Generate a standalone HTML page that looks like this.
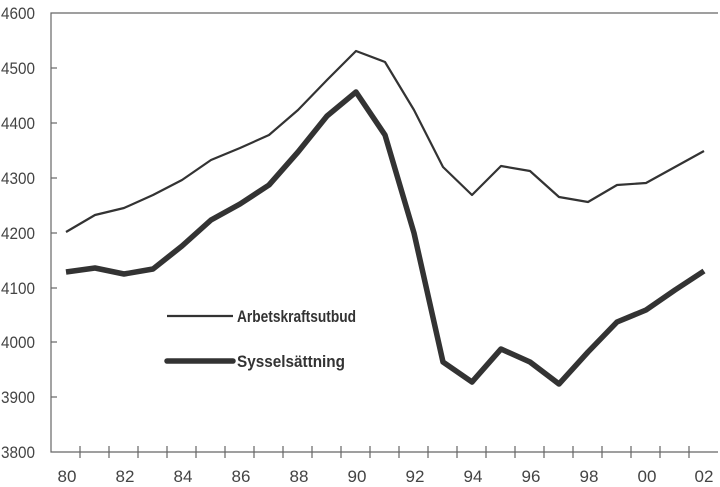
<!DOCTYPE html>
<html><head><meta charset="utf-8"><style>html,body{margin:0;padding:0;background:#fff}svg{display:block}</style></head><body>
<svg width="720" height="487" viewBox="0 0 720 487" xmlns="http://www.w3.org/2000/svg">
<rect width="720" height="487" fill="#fff"/>
<g stroke="#666" stroke-width="1.2" fill="none">
<polyline points="718,13 51,13 51,452 718,452"/>
<g>
<line x1="51" y1="68" x2="57" y2="68"/><line x1="51" y1="123" x2="57" y2="123"/><line x1="51" y1="178" x2="57" y2="178"/><line x1="51" y1="233" x2="57" y2="233"/><line x1="51" y1="288" x2="57" y2="288"/><line x1="51" y1="342" x2="57" y2="342"/><line x1="51" y1="397" x2="57" y2="397"/>
</g>
<path d="M80,446v12M109,446v12M138,446v12M167,446v12M196,446v12M225,446v12M254,446v12M283,446v12M312,446v12M341,446v12M370,446v12M399,446v12M428,446v12M457,446v12M486,446v12M515,446v12M544,446v12M573,446v12M602,446v12M631,446v12M660,446v12M689,446v12"/>
</g>
<g font-family="Liberation Sans Narrow, Liberation Sans, sans-serif" font-size="17" fill="#444" text-anchor="end">
<text x="35" y="19" textLength="34" lengthAdjust="spacingAndGlyphs">4600</text>
<text x="35" y="74" textLength="34" lengthAdjust="spacingAndGlyphs">4500</text>
<text x="35" y="129" textLength="34" lengthAdjust="spacingAndGlyphs">4400</text>
<text x="35" y="184" textLength="34" lengthAdjust="spacingAndGlyphs">4300</text>
<text x="35" y="239" textLength="34" lengthAdjust="spacingAndGlyphs">4200</text>
<text x="35" y="294" textLength="34" lengthAdjust="spacingAndGlyphs">4100</text>
<text x="35" y="348" textLength="34" lengthAdjust="spacingAndGlyphs">4000</text>
<text x="35" y="403" textLength="34" lengthAdjust="spacingAndGlyphs">3900</text>
<text x="35" y="458" textLength="34" lengthAdjust="spacingAndGlyphs">3800</text>
</g>
<g font-family="Liberation Sans Narrow, Liberation Sans, sans-serif" font-size="17" fill="#444" text-anchor="middle">
<text x="67" y="482">80</text><text x="125" y="482">82</text><text x="183" y="482">84</text><text x="241" y="482">86</text><text x="299" y="482">88</text><text x="357" y="482">90</text><text x="415" y="482">92</text><text x="473" y="482">94</text><text x="531" y="482">96</text><text x="589" y="482">98</text><text x="647" y="482">00</text><text x="704" y="482">02</text>
</g>
<polyline fill="none" stroke="#333" stroke-width="2.2" stroke-linejoin="round" points="66,232 95,215 124,208 153,195 182,180 211,160 240,148 269,135 298,110 327,80 356,51 385,62 414,110 443,167 472,195 501,166 530,171 559,197 588,202 617,185 646,183 675,167 704,151"/>
<polyline fill="none" stroke="#333" stroke-width="5.5" stroke-linejoin="round" points="66,272 95,268 124,274 153,269 182,246 211,220 240,204 269,185 298,152 327,116 356,92 385,135 414,233 443,362 472,382 501,349 530,362 559,384 588,352 617,322 646,310 675,290 704,271"/>
<line x1="167" y1="316" x2="233" y2="316" stroke="#333" stroke-width="2.2"/>
<line x1="167" y1="361" x2="233" y2="361" stroke="#333" stroke-width="5.5" stroke-linecap="round"/>
<g font-family="Liberation Sans Narrow, Liberation Sans, sans-serif" font-size="17" font-weight="bold" fill="#333">
<text x="237" y="322" textLength="119" lengthAdjust="spacingAndGlyphs">Arbetskraftsutbud</text>
<text x="237" y="367" textLength="108" lengthAdjust="spacingAndGlyphs">Sysselsättning</text>
</g>
</svg>
</body></html>
